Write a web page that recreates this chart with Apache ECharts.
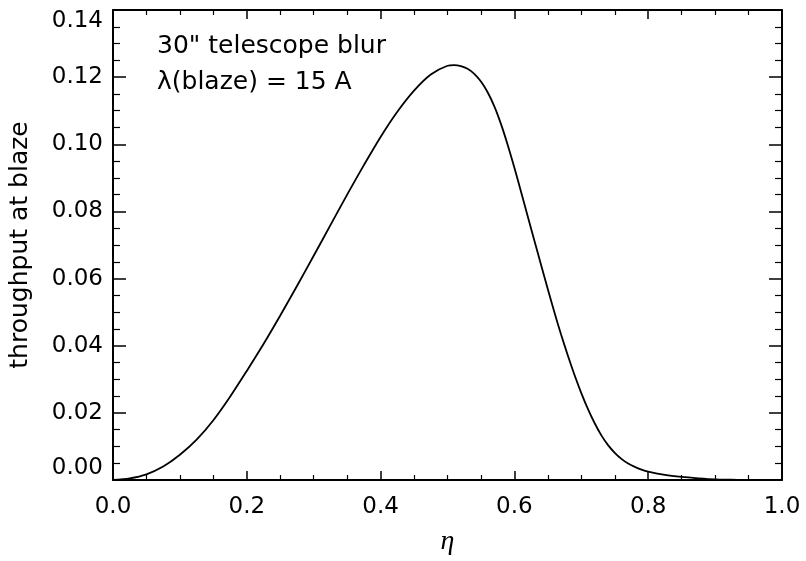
<!DOCTYPE html>
<html>
<head>
<meta charset="utf-8">
<script src="https://cdn.jsdelivr.net/npm/echarts@6/dist/echarts.min.js"></script>
<style>
  html, body { margin: 0; padding: 0; background: #fff; }
  #chart { width: 806px; height: 561px; }
</style>
</head>
<body>
<div id="chart"></div>
<script>
// ---- data ----
const etaValues = [0, 0.025, 0.05, 0.075, 0.1, 0.125, 0.15, 0.175, 0.2, 0.225, 0.25, 0.275, 0.3, 0.325, 0.35, 0.375, 0.4, 0.425, 0.45, 0.475, 0.5, 0.51, 0.52, 0.53, 0.54, 0.55, 0.56, 0.57, 0.58, 0.59, 0.6, 0.61, 0.62, 0.63, 0.64, 0.65, 0.66, 0.67, 0.68, 0.69, 0.7, 0.71, 0.72, 0.73, 0.74, 0.75, 0.76, 0.77, 0.78, 0.79, 0.8, 0.825, 0.85, 0.875, 0.9, 0.925, 0.95, 0.975, 1.0];
const throughputValues = [0, 0.0005, 0.0017, 0.0040, 0.0075, 0.0120, 0.0178, 0.0248, 0.0325, 0.0405, 0.0490, 0.0578, 0.0668, 0.0759, 0.0850, 0.0938, 0.1022, 0.1097, 0.1160, 0.1208, 0.1234, 0.1236, 0.1233, 0.1225, 0.1210, 0.1187, 0.1155, 0.1113, 0.1060, 0.0998, 0.0930, 0.0858, 0.0785, 0.0712, 0.0640, 0.0568, 0.0498, 0.0432, 0.0370, 0.0312, 0.0259, 0.0211, 0.0169, 0.0133, 0.0104, 0.0081, 0.0063, 0.0049, 0.0039, 0.0031, 0.0025, 0.0015, 0.0009, 0.0005, 0.0002, 0.0001, 0, 0, 0];
const xTickLabels = ['0.0', '0.2', '0.4', '0.6', '0.8', '1.0'];
const yTickLabels = ['0.00', '0.02', '0.04', '0.06', '0.08', '0.10', '0.12', '0.14'];
const xTitle = 'η';
const yTitle = 'throughput at blaze';
const noteLines = ['30" telescope blur', 'λ(blaze) = 15 A'];

const seriesData = etaValues.map((x, i) => [x, throughputValues[i]]);
const FONT = 'DejaVu Sans';

function xAxisCfg(pos, showLabels) {
  return {
    type: 'value', position: pos, min: 0, max: 1, interval: 0.2,
    axisLine: { show: true, onZero: false, lineStyle: { color: '#000', width: 2 } },
    axisTick: { show: true, inside: true, length: 9, lineStyle: { color: '#000', width: 1.5 } },
    minorTick: { show: true, splitNumber: 4, length: 5, lineStyle: { color: '#000', width: 1.2 } },
    splitLine: { show: false },
    axisLabel: {
      show: showLabels, margin: 16, color: '#000', fontFamily: FONT, fontSize: 23,
      formatter: v => xTickLabels[Math.round(v / 0.2)]
    },
    name: showLabels ? xTitle : '',
    nameLocation: 'middle', nameGap: 48,
    nameTextStyle: { color: '#000', fontFamily: 'Liberation Serif', fontStyle: 'italic', fontSize: 28 }
  };
}
function yAxisCfg(pos, showLabels) {
  return {
    type: 'value', position: pos, min: 0, max: 0.14, interval: 0.02,
    axisLine: { show: true, onZero: false, lineStyle: { color: '#000', width: 2 } },
    axisTick: { show: true, inside: true, length: 13, lineStyle: { color: '#000', width: 1.5 } },
    minorTick: { show: true, splitNumber: 4, length: 7, lineStyle: { color: '#000', width: 1.2 } },
    splitLine: { show: false },
    axisLabel: {
      show: showLabels, margin: 10, color: '#000', fontFamily: FONT, fontSize: 23,
      verticalAlignMinLabel: 'bottom', verticalAlignMaxLabel: 'top',
      formatter: v => yTickLabels[Math.round(v / 0.02)]
    },
    name: showLabels ? yTitle : '',
    nameLocation: 'middle', nameGap: 80, nameRotate: 90,
    nameTextStyle: { color: '#000', fontFamily: FONT, fontSize: 25 }
  };
}

const chart = echarts.init(document.getElementById('chart'), null, { renderer: 'canvas' });
chart.setOption({
  backgroundColor: '#fff',
  animation: false,
  grid: { left: 110, right: 24, top: 10, bottom: 76, containLabel: false },
  xAxis: [xAxisCfg('bottom', true), xAxisCfg('top', false)],
  yAxis: [yAxisCfg('left', true), yAxisCfg('right', false)],
  graphic: [
    { type: 'text', left: 157, top: 34, style: { text: noteLines[0], fill: '#000', font: '25px "DejaVu Sans"' } },
    { type: 'text', left: 157, top: 70, style: { text: noteLines[1], fill: '#000', font: '25px "DejaVu Sans"' } }
  ],
  series: [{
    type: 'line', xAxisIndex: 0, yAxisIndex: 0,
    data: seriesData, showSymbol: false, smooth: 0.3,
    lineStyle: { color: '#000', width: 1.8 }
  }]
});
</script>
</body>
</html>
